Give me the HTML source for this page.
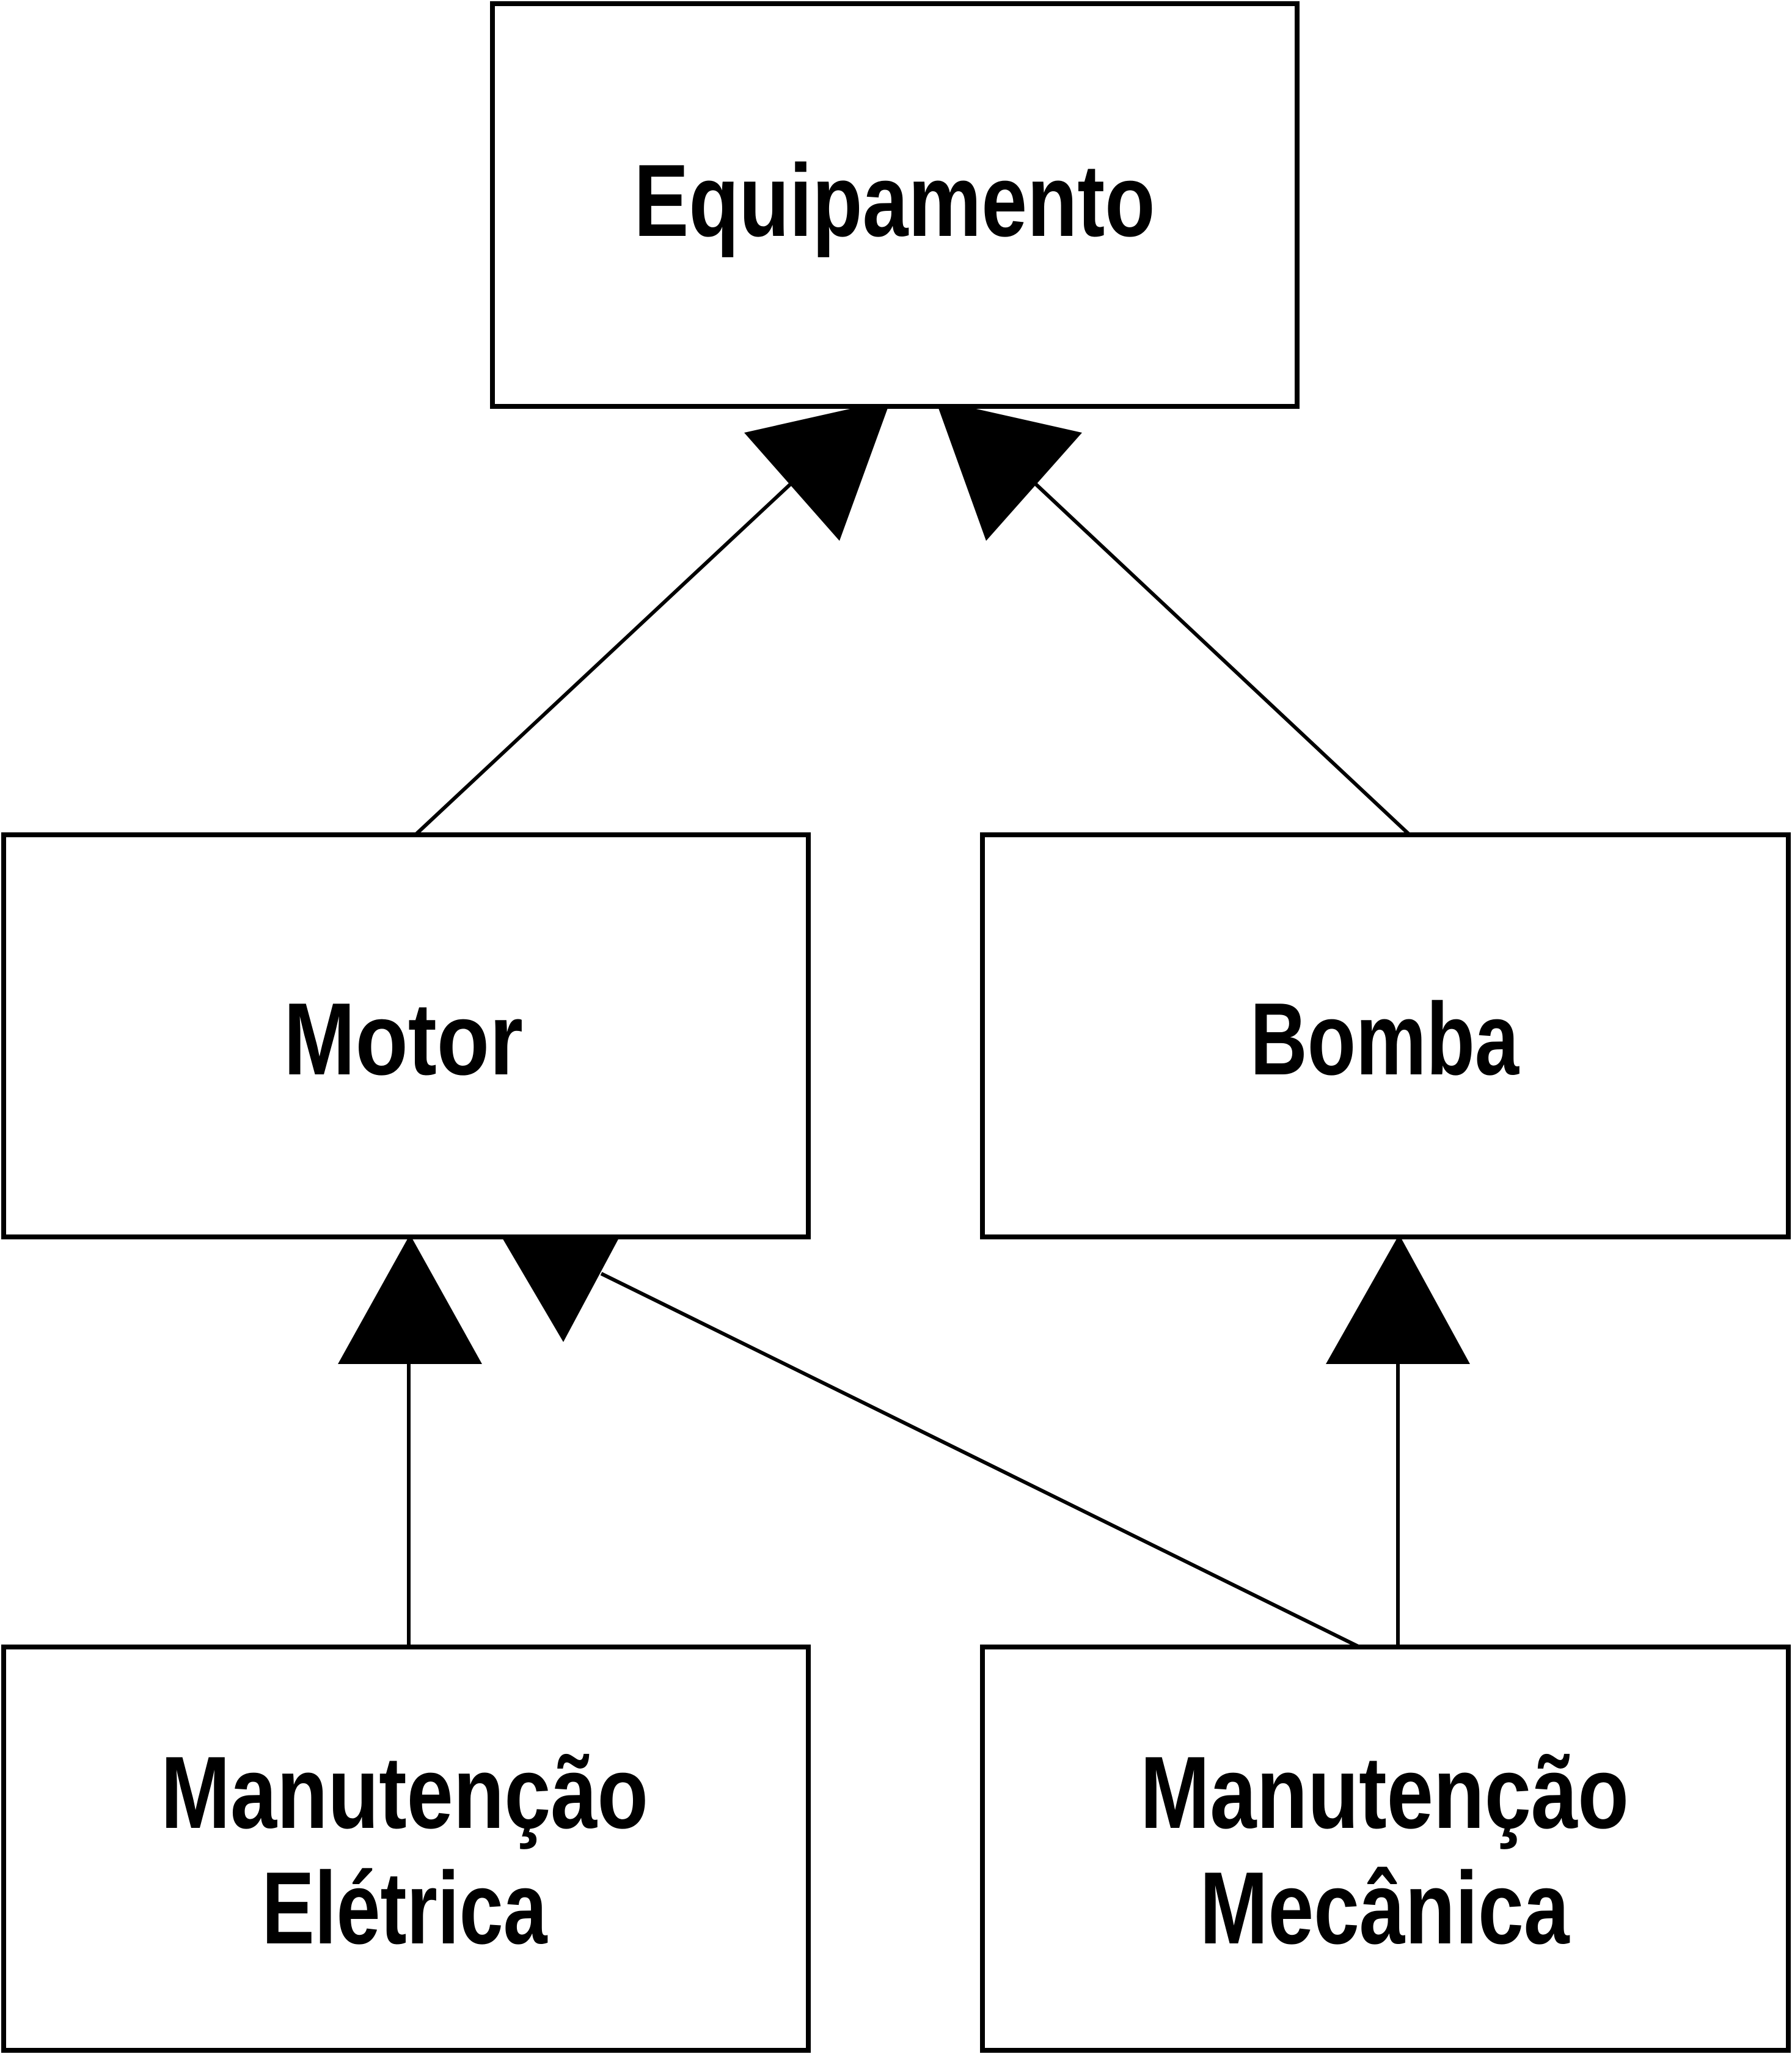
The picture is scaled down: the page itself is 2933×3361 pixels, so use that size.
<!DOCTYPE html>
<html><head><meta charset="utf-8"><style>html,body{margin:0;padding:0;background:#fff}svg{display:block}</style></head>
<body>
<svg width="2933" height="3361" viewBox="0 0 2933 3361" xmlns="http://www.w3.org/2000/svg">
<g fill="none" stroke="#000" stroke-width="6">
<line x1="682" y1="1364" x2="1295" y2="791"/>
<line x1="2305" y1="1364" x2="1694" y2="791"/>
<line x1="669" y1="2695" x2="669" y2="2230"/>
<line x1="2225" y1="2695" x2="984" y2="2084"/>
<line x1="2288" y1="2695" x2="2288" y2="2230"/>
</g>
<g fill="#000">
<polygon points="1458,654 1218,708 1374,885"/>
<polygon points="1531,654 1771,708 1614,885"/>
<polygon points="671,2020 553,2232 789,2232"/>
<polygon points="821,2024 1014,2024 922,2196"/>
<polygon points="2290,2020 2170,2232 2406,2232"/>
</g>
<g fill="#fff" stroke="#000" stroke-width="8">
<rect x="806" y="6" width="1317" height="659"/>
<rect x="6" y="1366" width="1317" height="658"/>
<rect x="1608" y="1366" width="1319" height="658"/>
<rect x="6" y="2695" width="1317" height="660"/>
<rect x="1608" y="2695" width="1319" height="660"/>
</g>
<g font-family="Liberation Sans, sans-serif" font-weight="bold" font-size="168" text-anchor="middle" fill="#000">
<text x="1464" y="386" textLength="853" lengthAdjust="spacingAndGlyphs">Equipamento</text>
<text x="660" y="1758" textLength="392" lengthAdjust="spacingAndGlyphs">Motor</text>
<text x="2266" y="1758" textLength="440" lengthAdjust="spacingAndGlyphs">Bomba</text>
<text x="662" y="2991" textLength="798" lengthAdjust="spacingAndGlyphs">Manutenção</text>
<text x="662" y="3180" textLength="467" lengthAdjust="spacingAndGlyphs">Elétrica</text>
<text x="2266" y="2991" textLength="800" lengthAdjust="spacingAndGlyphs">Manutenção</text>
<text x="2266" y="3180" textLength="605" lengthAdjust="spacingAndGlyphs">Mecânica</text>
</g>
</svg>
</body></html>
